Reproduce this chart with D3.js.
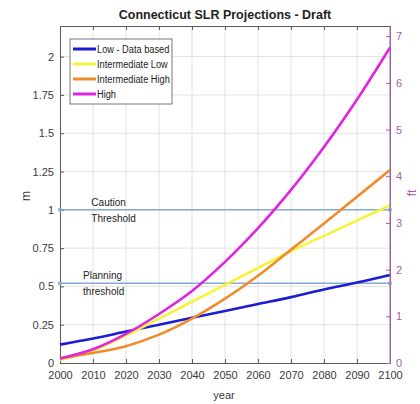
<!DOCTYPE html>
<html>
<head>
<meta charset="utf-8">
<script src="https://cdn.jsdelivr.net/npm/d3@7"></script>
<style>
  html, body { margin: 0; padding: 0; background: #fff; }
  svg { display: block; }
  text { font-family: "Liberation Sans", Arial, sans-serif; }
</style>
</head>
<body>
<svg id="chart" width="420" height="404"></svg>
<script>
// Projection years (decades) and sea level rise in metres for each scenario
const years = [2000, 2010, 2020, 2030, 2040, 2050, 2060, 2070, 2080, 2090, 2100];
const lowDataBased      = [0.12, 0.16, 0.205, 0.25, 0.295, 0.34, 0.385, 0.43, 0.48, 0.525, 0.575];
const intermediateLow   = [0.02, 0.08, 0.18, 0.29, 0.40, 0.51, 0.62, 0.73, 0.83, 0.93, 1.03];
const intermediateHigh  = [0.03, 0.065, 0.11, 0.185, 0.29, 0.42, 0.57, 0.74, 0.91, 1.085, 1.26];
const high              = [0.03, 0.09, 0.19, 0.32, 0.47, 0.66, 0.88, 1.13, 1.41, 1.72, 2.06];

const seriesNames  = ["Low - Data based", "Intermediate Low", "Intermediate High", "High"];
const seriesColors = ["#1c1cd4", "#f4f43c", "#f08c2a", "#e024e0"];

// Threshold levels (m) and their labels
const thresholdValues = [1.0, 0.52];
const thresholdLabels = [["Caution", "Threshold"], ["Planning", "threshold"]];

const xTicks  = [2000, 2010, 2020, 2030, 2040, 2050, 2060, 2070, 2080, 2090, 2100];
const yTicks  = [0, 0.25, 0.5, 0.75, 1, 1.25, 1.5, 1.75, 2];
const yLabels = ["0", "0.25", "0.5", "0.75", "1", "1.25", "1.5", "1.75", "2"];
const ftTicks = [0, 1, 2, 3, 4, 5, 6, 7];
const M_TO_FT = 3.28084;

const svg = d3.select("#chart");
const margin = { left: 60, right: 30, top: 26, bottom: 41 };
const W = 420, H = 404;
const x = d3.scaleLinear().domain([2000, 2100]).range([margin.left, W - margin.right]);
const y = d3.scaleLinear().domain([0, 2.2]).range([H - margin.bottom, margin.top]);
const yFt = d3.scaleLinear().domain([0, 2.2 * M_TO_FT]).range([H - margin.bottom, margin.top]);

const x0 = x.range()[0], x1 = x.range()[1];
const yb = y.range()[0], yt = y.range()[1];

// Grid
const grid = svg.append("g");
grid.selectAll("line.vx").data(xTicks.slice(1, -1)).join("line")
  .attr("x1", d => x(d)).attr("x2", d => x(d)).attr("y1", yt).attr("y2", yb)
  .attr("stroke", "#e2e2e2").attr("stroke-width", 1);
grid.selectAll("line.hy").data(yTicks.slice(1)).join("line")
  .attr("x1", x0).attr("x2", x1).attr("y1", d => y(d)).attr("y2", d => y(d))
  .attr("stroke", "#e2e2e2").attr("stroke-width", 1);

// Axes (ticks pointing inward)
const axisColor = "#5a5a5a";
const ftColor = "#a060a8";

const gx = svg.append("g").attr("transform", `translate(0,${yb})`)
  .call(d3.axisBottom(x).tickValues(xTicks).tickFormat(d3.format("d")).tickSizeInner(-4).tickSizeOuter(0).tickPadding(8));
const gxTop = svg.append("g").attr("transform", `translate(0,${yt})`)
  .call(d3.axisTop(x).tickValues(xTicks).tickFormat("").tickSizeInner(-4).tickSizeOuter(0));
const gy = svg.append("g").attr("transform", `translate(${x0},0)`)
  .call(d3.axisLeft(y).tickValues(yTicks).tickFormat((d, i) => yLabels[i]).tickSizeInner(-4).tickSizeOuter(0).tickPadding(6));
const gyR = svg.append("g").attr("transform", `translate(${x1},0)`)
  .call(d3.axisRight(yFt).tickValues(ftTicks).tickFormat(d3.format("d")).tickSizeInner(-4).tickSizeOuter(0).tickPadding(6));

[gx, gxTop, gy].forEach(g => {
  g.selectAll("path").attr("stroke", axisColor);
  g.selectAll("line").attr("stroke", axisColor);
  g.selectAll("text").attr("fill", "#3a3a3a").attr("font-size", 11);
});
gyR.selectAll("path").attr("stroke", ftColor);
gyR.selectAll("line").attr("stroke", ftColor);
gyR.selectAll("text").attr("fill", ftColor).attr("font-size", 11);

// Threshold lines with end markers
const thrColor = "#88aad2";
thresholdValues.forEach(v => {
  svg.append("line").attr("x1", x0).attr("x2", x1).attr("y1", y(v)).attr("y2", y(v))
    .attr("stroke", thrColor).attr("stroke-width", 1.5);
  [2000, 2100].forEach(yr => svg.append("circle").attr("cx", x(yr)).attr("cy", y(v)).attr("r", 2)
    .attr("fill", thrColor));
});
const labelX = [2009.5, 2007];
thresholdValues.forEach((v, i) => {
  const t = svg.append("text").attr("font-size", 10).attr("fill", "#222");
  t.append("tspan").attr("x", x(labelX[i])).attr("y", y(v) - 4).text(thresholdLabels[i][0]);
  t.append("tspan").attr("x", x(labelX[i])).attr("y", y(v) + 12).text(thresholdLabels[i][1]);
});

// Scenario curves
const seriesData = [lowDataBased, intermediateLow, intermediateHigh, high];
const line = d3.line().x((d, i) => x(years[i])).y(d => y(d)).curve(d3.curveCatmullRom.alpha(0.5));
seriesData.forEach((vals, i) => {
  svg.append("path").datum(vals).attr("d", line)
    .attr("fill", "none").attr("stroke", seriesColors[i]).attr("stroke-width", 2.6);
});

// Right axis line on top of the curves
svg.append("line").attr("x1", x1).attr("x2", x1).attr("y1", yt).attr("y2", yb)
  .attr("stroke", ftColor).attr("stroke-width", 1);

// Legend
const lg = svg.append("g").attr("transform", "translate(70,39)");
lg.append("rect").attr("width", 102).attr("height", 65).attr("fill", "#fff")
  .attr("stroke", "#555").attr("stroke-width", 0.8);
seriesNames.forEach((name, i) => {
  const yy = 10 + i * 15;
  lg.append("line").attr("x1", 3).attr("x2", 26).attr("y1", yy).attr("y2", yy)
    .attr("stroke", seriesColors[i]).attr("stroke-width", 3);
  lg.append("text").attr("transform", `translate(27,${yy + 4}) scale(0.84,1)`)
    .attr("font-size", 11).attr("fill", "#222").text(name);
});

// Title and axis labels
svg.append("text").attr("x", 225).attr("y", 19).attr("text-anchor", "middle")
  .attr("font-size", 12.5).attr("font-weight", "bold").attr("fill", "#222")
  .text("Connecticut SLR Projections - Draft");
svg.append("text").attr("x", 224).attr("y", 399).attr("text-anchor", "middle")
  .attr("font-size", 11).attr("fill", "#3a3a3a").text("year");
svg.append("text").attr("transform", "translate(30,196) rotate(-90)").attr("text-anchor", "middle")
  .attr("font-size", 12).attr("fill", "#3a3a3a").text("m");
svg.append("text").attr("transform", "translate(416,193) rotate(-90)").attr("text-anchor", "middle")
  .attr("font-size", 12).attr("fill", ftColor).text("ft");
</script>
</body>
</html>
